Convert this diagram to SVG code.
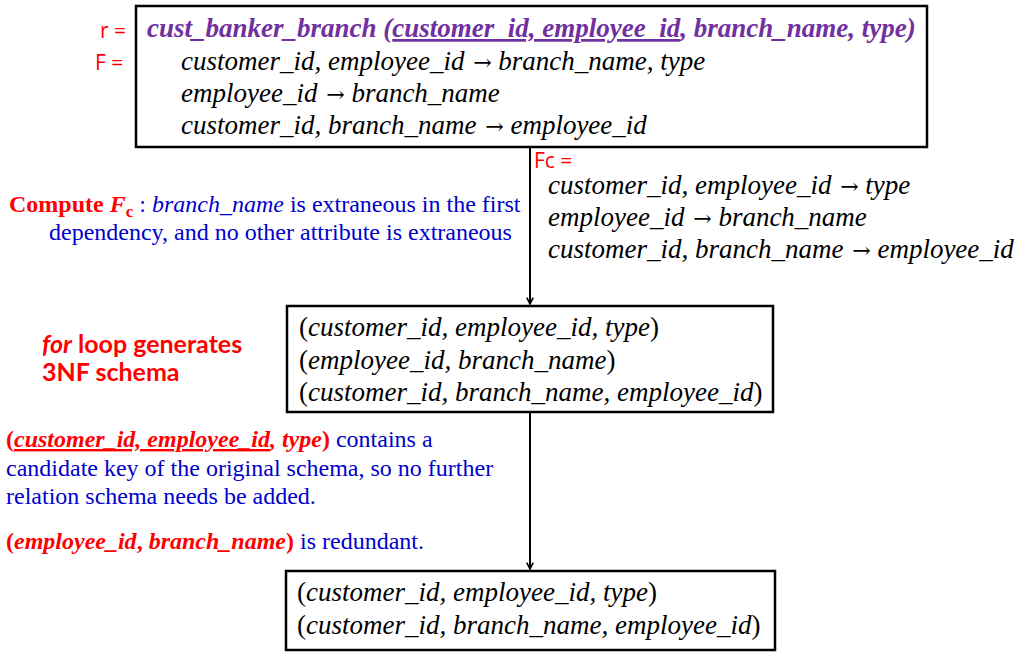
<svg xmlns="http://www.w3.org/2000/svg" width="1029" height="661" viewBox="0 0 1029 661">
<style>
.box{fill:#fff;stroke:#000;stroke-width:2.5}
.it{font-family:"Liberation Serif",serif;font-style:italic;font-size:27px;fill:#000}
.rm{font-style:normal}
.ar{font-style:normal;font-family:"DejaVu Serif",serif;font-size:22px}
.lbl{font-family:"Open Sans","Liberation Sans",sans-serif;font-size:21px;fill:#ff0000}
.blue{font-family:"Liberation Serif",serif;font-size:24px;fill:#0000cc}
.red{fill:#ff0000;font-weight:bold}
.redsans{font-family:Lato,"Open Sans",sans-serif;font-weight:bold;font-size:25px;fill:#ff0000}
.conn{stroke:#000;stroke-width:2;fill:none}
</style>
<defs>
<marker id="ah" viewBox="0 0 10 10" refX="9" refY="5" markerWidth="8" markerHeight="8" orient="auto" markerUnits="userSpaceOnUse">
<path d="M1,1 L9,5 L1,9" fill="none" stroke="#000" stroke-width="2"/>
</marker>
</defs>
<g id="connectors">
<line class="conn" x1="530" y1="148" x2="530" y2="304" marker-end="url(#ah)"/>
<line class="conn" x1="530" y1="413" x2="530" y2="569" marker-end="url(#ah)"/>
</g>
<g id="node-r">
<rect class="box" x="136" y="6" width="791" height="141"/>
<text class="lbl" x="100" y="38">r =</text>
<text class="lbl" x="95" y="70">F =</text>
<text x="147" y="37" font-family="Liberation Serif,serif" font-style="italic" font-weight="bold" font-size="27" fill="#7030a0">cust_banker_branch (<tspan text-decoration="underline">customer_id, employee_id</tspan>, branch_name, type)</text>
<text class="it" x="181" y="70">customer_id, employee_id <tspan class="ar" dx="2">→</tspan> branch_name, type</text>
<text class="it" x="181" y="102">employee_id <tspan class="ar" dx="2">→</tspan> branch_name</text>
<text class="it" x="181" y="134">customer_id, branch_name <tspan class="ar" dx="2">→</tspan> employee_id</text>
</g>
<g id="note-fc">
<text class="blue" x="9" y="212"><tspan class="red">Compute <tspan font-style="italic">F</tspan><tspan font-size="17" dy="5">c</tspan></tspan><tspan dy="-5"> : </tspan><tspan font-style="italic">branch_name</tspan> is extraneous in the first</text>
<text class="blue" x="49" y="240">dependency, and no other attribute is extraneous</text>
</g>
<g id="fc">
<text class="lbl" x="534" y="168" font-size="20">Fc =</text>
<text class="it" x="548" y="194">customer_id, employee_id <tspan class="ar" dx="2">→</tspan> type</text>
<text class="it" x="548" y="226">employee_id <tspan class="ar" dx="2">→</tspan> branch_name</text>
<text class="it" x="548" y="258">customer_id, branch_name <tspan class="ar" dx="2">→</tspan> employee_id</text>
</g>
<g id="note-loop">
<text class="redsans" x="42" y="353"><tspan font-style="italic">for</tspan> loop generates</text>
<text class="redsans" x="42" y="381">3NF schema</text>
</g>
<g id="node-3nf">
<rect class="box" x="287" y="306" width="486" height="106"/>
<text class="it" x="299" y="336"><tspan class="rm">(</tspan>customer_id, employee_id, type<tspan class="rm">)</tspan></text>
<text class="it" x="299" y="369"><tspan class="rm">(</tspan>employee_id, branch_name<tspan class="rm">)</tspan></text>
<text class="it" x="299" y="401"><tspan class="rm">(</tspan>customer_id, branch_name, employee_id<tspan class="rm">)</tspan></text>
</g>
<g id="note-key">
<text class="blue" x="6" y="447"><tspan class="red">(<tspan font-style="italic" text-decoration="underline">customer_id, employee_id</tspan><tspan font-style="italic">, type</tspan>)</tspan> contains a</text>
<text class="blue" x="6" y="476">candidate key of the original schema, so no further</text>
<text class="blue" x="6" y="504">relation schema needs be added.</text>
<text class="blue" x="6" y="549"><tspan class="red">(<tspan font-style="italic">employee_id</tspan>, <tspan font-style="italic">branch_name</tspan>)</tspan> is redundant.</text>
</g>
<g id="node-final">
<rect class="box" x="286" y="571" width="489" height="79"/>
<text class="it" x="297" y="601"><tspan class="rm">(</tspan>customer_id, employee_id, type<tspan class="rm">)</tspan></text>
<text class="it" x="297" y="634"><tspan class="rm">(</tspan>customer_id, branch_name, employee_id<tspan class="rm">)</tspan></text>
</g>
</svg>
